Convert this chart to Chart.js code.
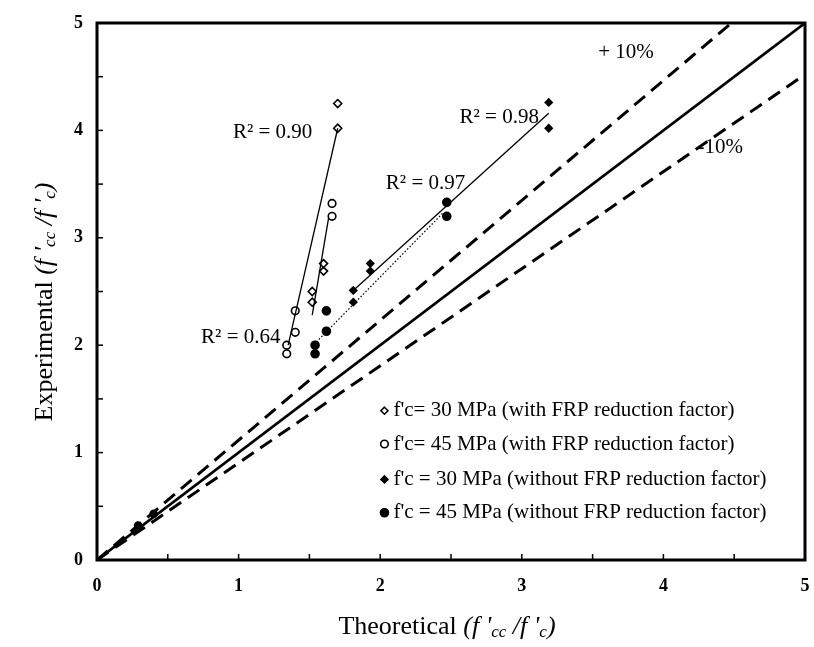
<!DOCTYPE html>
<html>
<head>
<meta charset="utf-8">
<script src="https://cdn.jsdelivr.net/npm/chart.js@4.4.0/dist/chart.umd.min.js"></script>
<style>
  body { margin: 0; background: #fff; }
  #wrap { width: 814px; height: 647px; }
</style>
</head>
<body>
<div id="wrap"><canvas id="chart" width="814" height="647"></canvas></div>
<script>
// Data
const fc30WithX = [1.52, 1.52, 1.60, 1.60, 1.70, 1.70];
const fc30WithY = [2.40, 2.50, 2.69, 2.76, 4.02, 4.25];
const fc45WithX = [1.34, 1.34, 1.40, 1.40, 1.66, 1.66];
const fc45WithY = [1.92, 2.00, 2.12, 2.32, 3.20, 3.32];
const fc30WithoutX = [1.81, 1.81, 1.93, 1.93, 3.19, 3.19];
const fc30WithoutY = [2.40, 2.51, 2.69, 2.76, 4.02, 4.26];
const fc45WithoutX = [1.54, 1.54, 1.62, 1.62, 2.47, 2.47];
const fc45WithoutY = [1.92, 2.00, 2.13, 2.32, 3.20, 3.33];
const originX = [0.29, 0.40];
const originY = [0.32, 0.43];

// trend lines (end points)
const trend90X = [1.35, 1.70];
const trend90Y = [2.00, 4.02];
const trend64X = [1.52, 1.635];
const trend64Y = [2.28, 3.18];
const trend98X = [1.81, 3.19];
const trend98Y = [2.51, 4.16];
const trend97X = [1.55, 2.45];
const trend97Y = [2.03, 3.24];

// reference lines
const equalX = [0, 5];
const equalY = [0, 5];
const plus10X = [0, 4.48];
const plus10Y = [0, 5];
const minus10X = [0, 5];
const minus10Y = [0, 4.52];

const axisTicks = [0, 1, 2, 3, 4, 5];
const minorTicks = [0.5, 1, 1.5, 2, 2.5, 3, 3.5, 4, 4.5];

const legendLabels = [
    "f'c= 30 MPa (with FRP reduction factor)",
    "f'c= 45 MPa (with FRP reduction factor)",
    "f'c = 30 MPa (without FRP reduction factor)",
    "f'c = 45 MPa (without FRP reduction factor)"
];
const annotations = [
    { text: 'R\u00b2 = 0.90', x: 0.96, y: 3.98 },
    { text: 'R\u00b2 = 0.64', x: 0.735, y: 2.07 },
    { text: 'R\u00b2 = 0.97', x: 2.04, y: 3.51 },
    { text: 'R\u00b2 = 0.98', x: 2.56, y: 4.12 },
    { text: '+ 10%', x: 3.54, y: 4.73 },
    { text: '-10%', x: 4.24, y: 3.84 }
];

const SERIF = '"Liberation Serif", "Times New Roman", serif';
const pts = (xs, ys) => xs.map((x, i) => ({ x: x, y: ys[i] }));

function lineSet(xs, ys, width, dash) {
    return {
        type: 'line',
        data: pts(xs, ys),
        borderColor: '#000',
        borderWidth: width,
        borderDash: dash || [],
        pointRadius: 0,
        fill: false,
        tension: 0
    };
}

function markerSet(xs, ys, style, radius, filled) {
    return {
        type: 'scatter',
        data: pts(xs, ys),
        pointStyle: style,
        pointRadius: radius,
        pointBorderWidth: 1.6,
        pointBorderColor: '#000',
        pointBackgroundColor: filled ? '#000' : '#fff'
    };
}

// draw a run of text pieces with different fonts / offsets
function drawRich(ctx, parts, cx, cy) {
    let total = 0;
    parts.forEach(p => { ctx.font = p.font; total += ctx.measureText(p.t).width; });
    let x = cx - total / 2;
    ctx.textAlign = 'left';
    ctx.textBaseline = 'middle';
    parts.forEach(p => {
        ctx.font = p.font;
        ctx.fillText(p.t, x, cy + (p.dy || 0));
        x += ctx.measureText(p.t).width;
    });
}

function titleParts(word) {
    const reg = '26px ' + SERIF;
    const ita = 'italic 26px ' + SERIF;
    const sub = 'italic 17px ' + SERIF;
    return [
        { t: word + ' ', font: reg },
        { t: '(', font: ita },
        { t: "f '", font: ita },
        { t: 'cc', font: sub, dy: 6 },
        { t: ' /', font: ita },
        { t: "f '", font: ita },
        { t: 'c', font: sub, dy: 6 },
        { t: ')', font: ita }
    ];
}

function drawMarker(ctx, style, x, y, r, filled) {
    ctx.beginPath();
    if (style === 'circle') {
        ctx.arc(x, y, r, 0, Math.PI * 2);
    } else {
        ctx.moveTo(x, y - r);
        ctx.lineTo(x + r, y);
        ctx.lineTo(x, y + r);
        ctx.lineTo(x - r, y);
        ctx.closePath();
    }
    ctx.fillStyle = filled ? '#000' : '#fff';
    ctx.fill();
    ctx.lineWidth = 1.6;
    ctx.strokeStyle = '#000';
    ctx.stroke();
}

const decorPlugin = {
    id: 'decor',
    afterDraw(chart) {
        const ctx = chart.ctx;
        const a = chart.chartArea;
        const xs = chart.scales.x;
        const ys = chart.scales.y;
        ctx.save();
        ctx.fillStyle = '#000';
        ctx.strokeStyle = '#000';

        // frame
        ctx.lineWidth = 3;
        ctx.strokeRect(a.left, a.top, a.right - a.left, a.bottom - a.top);

        // inward ticks
        ctx.lineWidth = 1.5;
        minorTicks.forEach(v => {
            const px = xs.getPixelForValue(v);
            ctx.beginPath();
            ctx.moveTo(px, a.bottom);
            ctx.lineTo(px, a.bottom - 6);
            ctx.stroke();
            const py = ys.getPixelForValue(v);
            ctx.beginPath();
            ctx.moveTo(a.left, py);
            ctx.lineTo(a.left + 6, py);
            ctx.stroke();
        });

        // annotations
        ctx.font = '21px ' + SERIF;
        ctx.textAlign = 'left';
        ctx.textBaseline = 'middle';
        ctx.fillStyle = '#000';
        annotations.forEach(n => {
            ctx.fillText(n.text, xs.getPixelForValue(n.x), ys.getPixelForValue(n.y));
        });

        // legend
        const styles = [
            ['diamond', 3.5, false],
            ['circle', 3.8, false],
            ['diamond', 3.5, true],
            ['circle', 4, true]
        ];
        const lx = xs.getPixelForValue(2.03);
        const rowY = [1.39, 1.08, 0.75, 0.44];
        legendLabels.forEach((lab, i) => {
            const y = ys.getPixelForValue(rowY[i]);
            const s = styles[i];
            drawMarker(ctx, s[0], lx, y, s[1], s[2]);
            ctx.fillStyle = '#000';
            ctx.font = '21px ' + SERIF;
            ctx.textAlign = 'left';
            ctx.textBaseline = 'middle';
            ctx.fillText(lab, lx + 9, y);
        });

        // axis titles
        ctx.fillStyle = '#000';
        drawRich(ctx, titleParts('Theoretical'), 447, 627);
        ctx.save();
        ctx.translate(45, 302);
        ctx.rotate(-Math.PI / 2);
        drawRich(ctx, titleParts('Experimental'), 0, 0);
        ctx.restore();

        ctx.restore();
    }
};

new Chart(document.getElementById('chart'), {
    type: 'scatter',
    data: {
        datasets: [
            lineSet(equalX, equalY, 2.6),
            lineSet(plus10X, plus10Y, 3, [14, 8]),
            lineSet(minus10X, minus10Y, 3, [14, 8]),
            lineSet(trend90X, trend90Y, 1.3),
            lineSet(trend64X, trend64Y, 1.3),
            lineSet(trend98X, trend98Y, 1.3),
            lineSet(trend97X, trend97Y, 1.2, [1.5, 2]),
            markerSet(fc30WithX, fc30WithY, 'rectRot', 4, false),
            markerSet(fc45WithX, fc45WithY, 'circle', 3.8, false),
            markerSet(fc30WithoutX, fc30WithoutY, 'rectRot', 3.5, true),
            markerSet(fc45WithoutX, fc45WithoutY, 'circle', 4, true),
            markerSet(originX, originY, 'circle', 3.5, true)
        ]
    },
    options: {
        responsive: false,
        animation: false,
        layout: { padding: { left: 0, right: 9, top: 23, bottom: 0 } },
        plugins: {
            legend: { display: false },
            tooltip: { enabled: false }
        },
        scales: {
            x: {
                type: 'linear',
                min: 0,
                max: 5,
                afterFit: s => { s.height = 87; s.paddingLeft = 0; s.paddingRight = 0; },
                afterBuildTicks: s => { s.ticks = axisTicks.map(v => ({ value: v })); },
                grid: { display: false, drawTicks: false },
                border: { display: false },
                ticks: {
                    padding: 16,
                    color: '#000',
                    font: { family: SERIF, size: 18, weight: 'bold' }
                }
            },
            y: {
                type: 'linear',
                min: 0,
                max: 5,
                afterFit: s => { s.width = 97; s.paddingTop = 0; s.paddingBottom = 0; },
                afterBuildTicks: s => { s.ticks = axisTicks.map(v => ({ value: v })); },
                grid: { display: false, drawTicks: false },
                border: { display: false },
                ticks: {
                    padding: 14,
                    color: '#000',
                    font: { family: SERIF, size: 18, weight: 'bold' }
                }
            }
        }
    },
    plugins: [decorPlugin]
});
</script>
</body>
</html>
